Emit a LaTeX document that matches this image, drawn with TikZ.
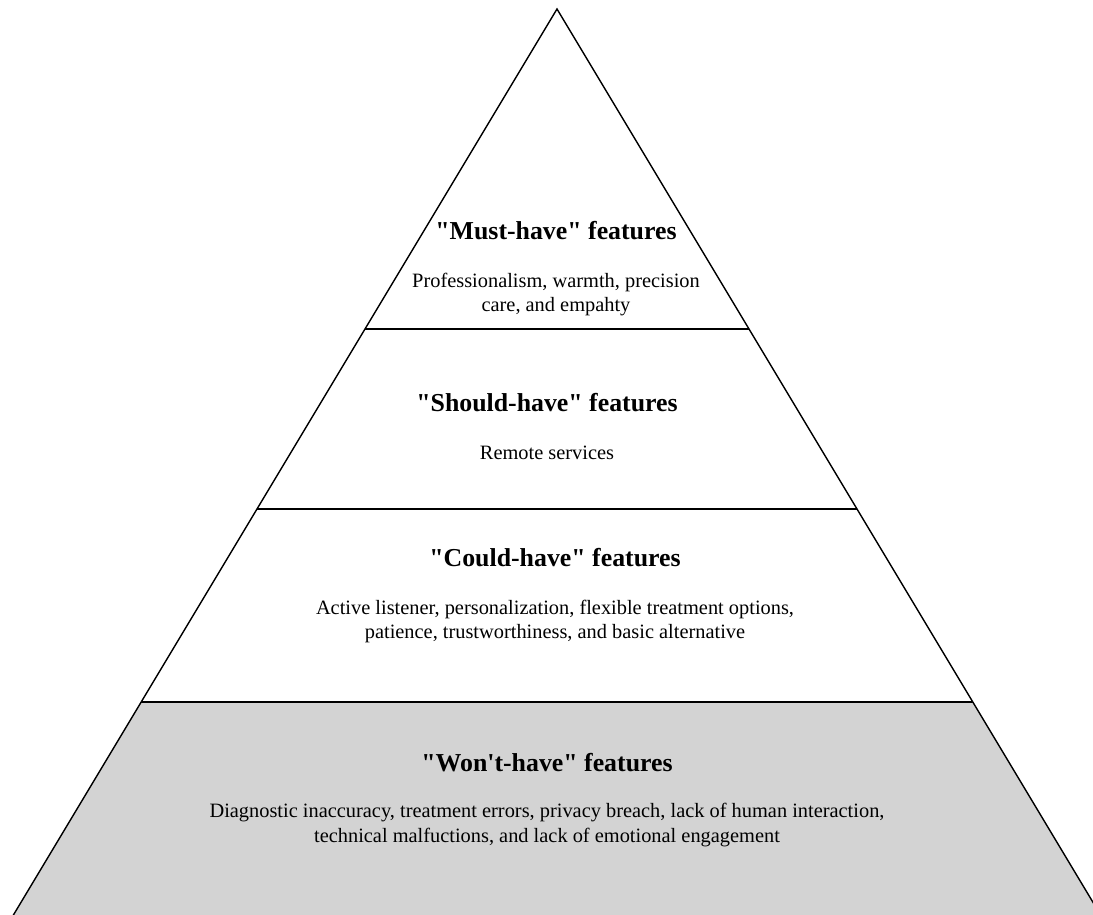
\documentclass[tikz,border=0pt]{standalone}
\usepackage{fontspec}
\setmainfont{Liberation Serif}
\usetikzlibrary{positioning}
\definecolor{wontfill}{RGB}{211,211,211}
\newcommand{\qq}{\textquotedbl}

\begin{document}
\begin{tikzpicture}[x=0.02cm, y=-0.02cm,
    tiertitle/.style={font=\fontsize{14.7}{17}\selectfont\bfseries, anchor=base, inner sep=0pt},
    tierbody/.style={font=\fontsize{11.6}{13.7}\selectfont, align=center, anchor=base, inner sep=0pt},
    tierline/.style={draw=black, line width=0.8pt}
]
    \useasboundingbox (0,0) rectangle (1093,915);
    \clip (0,0) rectangle (1093,915);

    % Pyramid corners and tier edges
    \coordinate (apex) at (557,9);
    \coordinate (baseL) at (7.4,925);
    \coordinate (baseR) at (1106.6,925);
    \coordinate (mustL) at (365,329);
    \coordinate (mustR) at (749,329);
    \coordinate (shouldL) at (257,509);
    \coordinate (shouldR) at (857,509);
    \coordinate (couldL) at (141.2,702);
    \coordinate (couldR) at (972.8,702);

    % Won't-have tier fill
    \fill[wontfill] (couldL) -- (couldR) -- (baseR) -- (baseL) -- cycle;

    % Outline
    \draw[tierline] (baseL) -- (apex) -- (baseR);
    \draw[tierline] (mustL) -- (mustR);
    \draw[tierline] (shouldL) -- (shouldR);
    \draw[tierline] (couldL) -- (couldR);

    % Must-have (base = last line)
    \node[tiertitle] (musttitle) at (556,240) {\qq Must-have\qq{} features};
    \node[tierbody] (mustbody) at (556,312) {Professionalism, warmth, precision\\care, and empahty};

    % Should-have
    \node[tiertitle] (shouldtitle) at (547,412) {\qq Should-have\qq{} features};
    \node[tierbody] (shouldbody) at (547,460) {Remote services};

    % Could-have
    \node[tiertitle] (couldtitle) at (555,567) {\qq Could-have\qq{} features};
    \node[tierbody] (couldbody) at (555,639) {Active listener, personalization, flexible treatment options,\\patience, trustworthiness, and basic alternative};

    % Won't-have
    \node[tiertitle] (wonttitle) at (547,771) {\qq Won\textquotesingle t-have\qq{} features};
    \node[tierbody] (wontbody) at (547,842) {Diagnostic inaccuracy, treatment errors, privacy breach, lack of human interaction,\\technical malfuctions, and lack of emotional engagement};
\end{tikzpicture}
\end{document}
